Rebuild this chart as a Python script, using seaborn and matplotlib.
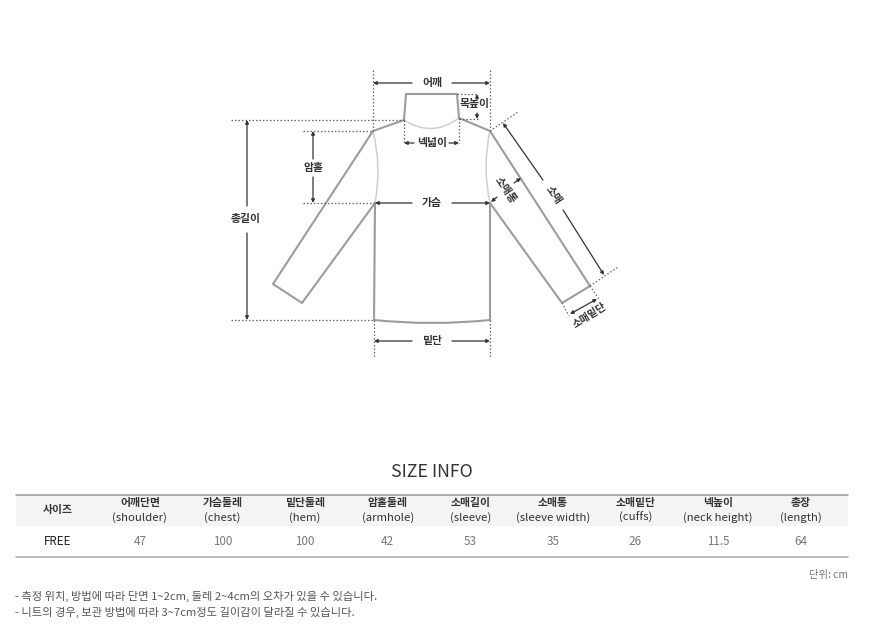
import numpy as np
import pandas as pd
import matplotlib
matplotlib.use('Agg')
import matplotlib.pyplot as plt
import seaborn as sns
from matplotlib.colors import ListedColormap
from matplotlib.path import Path
from matplotlib.patches import PathPatch

# Table data
col_kr = ['사이즈', '어깨단면', '가슴둘레', '밑단둘레', '암홀둘레',
          '소매길이', '소매통', '소매밑단', '넥높이', '총장']
col_en = ['', '(shoulder)', '(chest)', '(hem)', '(armhole)',
          '(sleeve)', '(sleeve width)', '(cuffs)', '(neck height)', '(length)']
size_name = 'FREE'
free_values = ['47', '100', '100', '42', '53', '35', '26', '11.5', '64']

notes = ['- 측정 위치, 방법에 따라 단면 1~2cm, 둘레 2~4cm의 오차가 있을 수 있습니다.',
         '- 니트의 경우, 보관 방법에 따라 3~7cm정도 길이감이 달라질 수 있습니다.']

sns.set_theme(style='white')
plt.rcParams['font.family'] = ['Noto Sans CJK KR', 'DejaVu Sans']

W, H = 873, 626
fig = plt.figure(figsize=(W / 100, H / 100), dpi=100)
fig.patch.set_facecolor('white')

# ---- table (seaborn heatmap for the row backgrounds) ----
tx0, tx1, ty0, ty1 = 16, 848, 495, 557
tab_ax = fig.add_axes([tx0 / W, 1 - ty1 / H, (tx1 - tx0) / W, (ty1 - ty0) / H])
rows = pd.DataFrame([[0] * len(col_kr), [1] * len(col_kr)], columns=col_kr)
sns.heatmap(rows, cmap=ListedColormap(['#f4f4f4', '#ffffff']), cbar=False,
            ax=tab_ax, xticklabels=False, yticklabels=False, linewidths=0)
tab_ax.set_xlabel('')
tab_ax.set_ylabel('')

# text columns sit a little left of the cell centres (826 px of 832 used)
xs = (np.arange(len(col_kr)) + 0.5) * 826 / 832

for x, kr, en in zip(xs, col_kr, col_en):
    if en:
        tab_ax.text(x, 0.27, kr, ha='center', va='center', fontsize=7.8,
                    color='#333333', fontweight='bold')
        tab_ax.text(x, 0.74, en, ha='center', va='center', fontsize=8.2,
                    color='#333333')
    else:
        tab_ax.text(x, 0.5, kr, ha='center', va='center', fontsize=7.8,
                    color='#333333', fontweight='bold')

row_vals = [size_name] + free_values
for i, (x, v) in enumerate(zip(xs, row_vals)):
    tab_ax.text(x, 1.5, v, ha='center', va='center', fontsize=8.4,
                color='#222222' if i == 0 else '#777777')

# ---- overlay axes in pixel coordinates ----
ax = fig.add_axes([0, 0, 1, 1])
ax.set_xlim(0, W)
ax.set_ylim(H, 0)
ax.axis('off')
ax.patch.set_alpha(0)

ax.plot([tx0, tx1], [ty0, ty0], color='#9a9a9a', lw=1.1)
ax.plot([tx0, tx1], [ty1, ty1], color='#a8a8a8', lw=1.1)

ax.text(432, 472, 'SIZE INFO', ha='center', va='center', fontsize=12.8,
        color='#333333', fontweight='light')
ax.text(848, 575, '단위: cm', ha='right', va='center', fontsize=7.4, color='#777777')
for k, n in enumerate(notes):
    ax.text(15, 596 + 16 * k, n, ha='left', va='center', fontsize=8.1, color='#555555')

# ---- garment illustration ----
OUT = '#9c9c9c'
LIGHT = '#cfcfcf'
DARK = '#333333'
DOT = '#666666'


def seg(pts, color=OUT, lw=1.5, ls='-'):
    p = np.array(pts, dtype=float)
    ax.plot(p[:, 0], p[:, 1], color=color, lw=lw, ls=ls, solid_capstyle='round',
            solid_joinstyle='round')


def curve(p0, c, p1, color=LIGHT, lw=1.1):
    path = Path([p0, c, p1], [Path.MOVETO, Path.CURVE3, Path.CURVE3])
    ax.add_patch(PathPatch(path, fill=False, edgecolor=color, lw=lw))


def dotted(p0, p1):
    ax.plot([p0[0], p1[0]], [p0[1], p1[1]], color=DOT, lw=0.9, ls=(0, (1.2, 1.6)))


def arrow(p_from, p_to, both=False):
    style = '<|-|>' if both else '-|>'
    ax.annotate('', xy=p_to, xytext=p_from,
                arrowprops=dict(arrowstyle=style, color=DARK, lw=0.9,
                                mutation_scale=5, shrinkA=0, shrinkB=0))


def label(x, y, s, rot=0, size=7.8):
    ax.text(x, y, s, ha='center', va='center', fontsize=size, fontweight='bold',
            color=DARK, rotation=rot, rotation_mode='anchor')


# neck
seg([(404, 120), (406, 94), (457, 94), (459, 118)])
curve((404, 120), (432, 138), (459, 118))
# shoulders + body
seg([(404, 120), (373, 131)])
seg([(459, 118), (490, 131)])
curve((373, 131), (382, 167), (375, 203))
curve((490, 131), (482, 167), (490, 203))
seg([(375, 203), (374, 320)])
seg([(490, 203), (490, 320)])
path = Path([(374, 320), (432, 326), (490, 320)], [Path.MOVETO, Path.CURVE3, Path.CURVE3])
ax.add_patch(PathPatch(path, fill=False, edgecolor=OUT, lw=1.5))
# sleeves
seg([(373, 131), (273, 284), (302, 303), (375, 203)])
seg([(490, 131), (590, 286), (562, 303), (490, 203)])

# shoulder width
dotted((373, 70), (373, 131))
dotted((490, 70), (490, 131))
arrow((412, 83), (373, 83))
arrow((452, 83), (490, 83))
label(432, 83, '어깨')

# neck height
dotted((457, 94), (478, 94))
dotted((459, 119), (478, 119))
arrow((477, 100), (477, 94))
arrow((477, 113), (477, 119))
label(475, 104, '목높이')

# neck width
dotted((404, 120), (404, 143))
dotted((459, 118), (459, 143))
arrow((414, 143), (404, 143))
arrow((449, 143), (459, 143))
label(432, 143, '넥넓이')

# total length
dotted((231, 120), (404, 120))
dotted((231, 320), (374, 320))
arrow((247, 206), (247, 120))
arrow((247, 233), (247, 320))
label(246, 219, '총길이')

# armhole
dotted((303, 131), (373, 131))
dotted((303, 203), (375, 203))
arrow((313, 159), (313, 131))
arrow((313, 177), (313, 203))
label(313, 168, '암홀')

# chest
arrow((412, 203), (375, 203))
arrow((452, 203), (490, 203))
label(432, 203, '가슴')

# hem
dotted((374, 320), (374, 357))
dotted((490, 320), (490, 357))
arrow((412, 341), (374, 341))
arrow((452, 341), (490, 341))
label(432, 341, '밑단')

# sleeve length
dotted((490, 131), (518, 112))
dotted((590, 286), (618, 267))
d = np.array([102.0, 152.0])
d /= np.linalg.norm(d)
c = np.array([553.0, 195.0])
arrow(tuple(c - d * 18), (503, 123))
arrow(tuple(c + d * 18), (604, 275))
ang = -np.degrees(np.arctan2(152, 102))
label(c[0], c[1], '소매', rot=ang)

# sleeve width
label(505, 190, '소매통', rot=ang)
arrow((514, 183), (521, 178))
arrow((497, 197), (491, 202))

# cuffs
dotted((590, 286), (599, 299))
dotted((562, 303), (569, 316))
arrow((570, 314), (597, 299), both=True)
label(590, 316, '소매밑단', rot=32, size=7.4)

fig.savefig('out.png', dpi=100, facecolor='white')
